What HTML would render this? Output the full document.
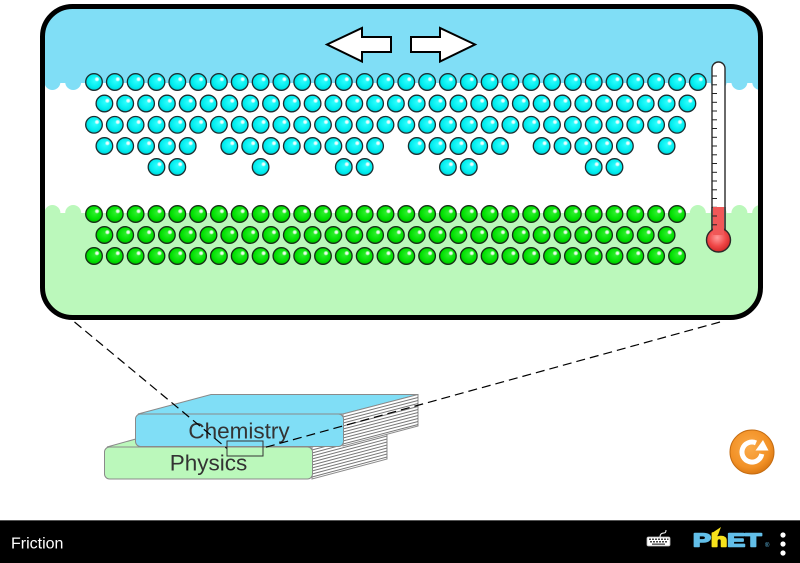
<!DOCTYPE html>
<html><head><meta charset="utf-8"><style>
html,body{margin:0;padding:0;background:#fff;width:800px;height:563px;overflow:hidden}
svg{display:block}
</style></head><body>
<svg width="800" height="563" viewBox="0 0 800 563" xmlns="http://www.w3.org/2000/svg">
<defs>
<clipPath id="box"><rect x="42.5" y="6.5" width="718" height="311" rx="30"/></clipPath>
<radialGradient id="hl" cx="0.5" cy="0.5" r="0.5"><stop offset="0" stop-color="#fff" stop-opacity="1"/><stop offset="0.5" stop-color="#fff" stop-opacity="0.8"/><stop offset="1" stop-color="#fff" stop-opacity="0"/></radialGradient>
<radialGradient id="cy" cx="0.55" cy="0.42" r="0.6"><stop offset="0" stop-color="#30ffff"/><stop offset="0.7" stop-color="#00ecee"/><stop offset="1" stop-color="#00c4cc"/></radialGradient>
<radialGradient id="gr" cx="0.55" cy="0.42" r="0.6"><stop offset="0" stop-color="#30f030"/><stop offset="0.7" stop-color="#00e000"/><stop offset="1" stop-color="#00b400"/></radialGradient>
<radialGradient id="rb" cx="0.45" cy="0.4" r="0.6"><stop offset="0" stop-color="#ff9a9a"/><stop offset="0.6" stop-color="#f04848"/><stop offset="1" stop-color="#d02828"/></radialGradient>
<radialGradient id="og" cx="0.45" cy="0.4" r="0.6"><stop offset="0" stop-color="#fbab4a"/><stop offset="0.75" stop-color="#f29126"/><stop offset="1" stop-color="#dc7a14"/></radialGradient>
<g id="ca"><circle r="8.3" fill="url(#cy)" stroke="#1c2e30" stroke-width="1.3"/><circle cx="3" cy="-2.8" r="2.6" fill="url(#hl)"/></g>
<g id="ga"><circle r="8.3" fill="url(#gr)" stroke="#163016" stroke-width="1.3"/><circle cx="3" cy="-2.8" r="2.6" fill="url(#hl)"/></g>
</defs>

<!-- magnifier contents -->
<rect x="42" y="6" width="719" height="312" rx="30" fill="#fff"/>
<g clip-path="url(#box)">
  <rect x="40" y="0" width="725" height="83" fill="#80def6"/>
  <circle cx="52.4" cy="82" r="8" fill="#80def6"/>
  <circle cx="73.2" cy="82" r="8" fill="#80def6"/>
  <circle cx="718.6" cy="82" r="8" fill="#80def6"/>
  <circle cx="739.4" cy="82" r="8" fill="#80def6"/>
  <circle cx="760.2" cy="82" r="8" fill="#80def6"/>
  <rect x="40" y="213" width="725" height="110" fill="#bbf8bb"/>
  <circle cx="52.4" cy="213" r="8" fill="#bbf8bb"/>
  <circle cx="73.2" cy="213" r="8" fill="#bbf8bb"/>
  <circle cx="697.8" cy="213" r="8" fill="#bbf8bb"/>
  <circle cx="718.6" cy="213" r="8" fill="#bbf8bb"/>
  <circle cx="739.4" cy="213" r="8" fill="#bbf8bb"/>
  <circle cx="760.2" cy="213" r="8" fill="#bbf8bb"/>
</g>

<!-- arrows -->
<polygon points="327,44.5 362,28 362,37 391,37 391,52 362,52 362,61.5" fill="#fff" stroke="#000" stroke-width="2" stroke-linejoin="miter"/>
<polygon points="475,44.5 440,28 440,37 411,37 411,52 440,52 440,61.5" fill="#fff" stroke="#000" stroke-width="2" stroke-linejoin="miter"/>

<!-- cyan atoms -->
<g transform="translate(0,82)">
<use href="#ca" x="94"/><use href="#ca" x="114.8"/><use href="#ca" x="135.6"/><use href="#ca" x="156.5"/><use href="#ca" x="177.3"/><use href="#ca" x="198.1"/><use href="#ca" x="218.9"/><use href="#ca" x="239.7"/><use href="#ca" x="260.6"/><use href="#ca" x="281.4"/><use href="#ca" x="302.2"/><use href="#ca" x="323"/><use href="#ca" x="343.8"/><use href="#ca" x="364.7"/><use href="#ca" x="385.5"/><use href="#ca" x="406.3"/><use href="#ca" x="427.1"/><use href="#ca" x="447.9"/><use href="#ca" x="468.8"/><use href="#ca" x="489.6"/><use href="#ca" x="510.4"/><use href="#ca" x="531.2"/><use href="#ca" x="552"/><use href="#ca" x="572.9"/><use href="#ca" x="593.7"/><use href="#ca" x="614.5"/><use href="#ca" x="635.3"/><use href="#ca" x="656.1"/><use href="#ca" x="677"/><use href="#ca" x="697.8"/>
</g>
<g transform="translate(0,103.5)">
<use href="#ca" x="104.4"/><use href="#ca" x="125.2"/><use href="#ca" x="146.1"/><use href="#ca" x="166.9"/><use href="#ca" x="187.7"/><use href="#ca" x="208.5"/><use href="#ca" x="229.3"/><use href="#ca" x="250.2"/><use href="#ca" x="271"/><use href="#ca" x="291.8"/><use href="#ca" x="312.6"/><use href="#ca" x="333.4"/><use href="#ca" x="354.3"/><use href="#ca" x="375.1"/><use href="#ca" x="395.9"/><use href="#ca" x="416.7"/><use href="#ca" x="437.5"/><use href="#ca" x="458.4"/><use href="#ca" x="479.2"/><use href="#ca" x="500"/><use href="#ca" x="520.8"/><use href="#ca" x="541.6"/><use href="#ca" x="562.5"/><use href="#ca" x="583.3"/><use href="#ca" x="604.1"/><use href="#ca" x="624.9"/><use href="#ca" x="645.7"/><use href="#ca" x="666.6"/><use href="#ca" x="687.4"/>
</g>
<g transform="translate(0,124.8)">
<use href="#ca" x="94"/><use href="#ca" x="114.8"/><use href="#ca" x="135.6"/><use href="#ca" x="156.5"/><use href="#ca" x="177.3"/><use href="#ca" x="198.1"/><use href="#ca" x="218.9"/><use href="#ca" x="239.7"/><use href="#ca" x="260.6"/><use href="#ca" x="281.4"/><use href="#ca" x="302.2"/><use href="#ca" x="323"/><use href="#ca" x="343.8"/><use href="#ca" x="364.7"/><use href="#ca" x="385.5"/><use href="#ca" x="406.3"/><use href="#ca" x="427.1"/><use href="#ca" x="447.9"/><use href="#ca" x="468.8"/><use href="#ca" x="489.6"/><use href="#ca" x="510.4"/><use href="#ca" x="531.2"/><use href="#ca" x="552"/><use href="#ca" x="572.9"/><use href="#ca" x="593.7"/><use href="#ca" x="614.5"/><use href="#ca" x="635.3"/><use href="#ca" x="656.1"/><use href="#ca" x="677"/>
</g>
<g transform="translate(0,146)">
<use href="#ca" x="104.4"/><use href="#ca" x="125.2"/><use href="#ca" x="146.1"/><use href="#ca" x="166.9"/><use href="#ca" x="187.7"/>
<use href="#ca" x="229.3"/><use href="#ca" x="250.2"/><use href="#ca" x="271"/><use href="#ca" x="291.8"/><use href="#ca" x="312.6"/><use href="#ca" x="333.4"/><use href="#ca" x="354.3"/><use href="#ca" x="375.1"/>
<use href="#ca" x="416.7"/><use href="#ca" x="437.5"/><use href="#ca" x="458.4"/><use href="#ca" x="479.2"/><use href="#ca" x="500"/>
<use href="#ca" x="541.6"/><use href="#ca" x="562.5"/><use href="#ca" x="583.3"/><use href="#ca" x="604.1"/><use href="#ca" x="624.9"/>
<use href="#ca" x="666.6"/>
</g>
<g transform="translate(0,167)">
<use href="#ca" x="156.5"/><use href="#ca" x="177.3"/><use href="#ca" x="260.6"/><use href="#ca" x="343.8"/><use href="#ca" x="364.7"/><use href="#ca" x="447.9"/><use href="#ca" x="468.8"/><use href="#ca" x="593.7"/><use href="#ca" x="614.5"/>
</g>

<!-- green atoms -->
<g transform="translate(0,214)">
<use href="#ga" x="94"/><use href="#ga" x="114.8"/><use href="#ga" x="135.6"/><use href="#ga" x="156.5"/><use href="#ga" x="177.3"/><use href="#ga" x="198.1"/><use href="#ga" x="218.9"/><use href="#ga" x="239.7"/><use href="#ga" x="260.6"/><use href="#ga" x="281.4"/><use href="#ga" x="302.2"/><use href="#ga" x="323"/><use href="#ga" x="343.8"/><use href="#ga" x="364.7"/><use href="#ga" x="385.5"/><use href="#ga" x="406.3"/><use href="#ga" x="427.1"/><use href="#ga" x="447.9"/><use href="#ga" x="468.8"/><use href="#ga" x="489.6"/><use href="#ga" x="510.4"/><use href="#ga" x="531.2"/><use href="#ga" x="552"/><use href="#ga" x="572.9"/><use href="#ga" x="593.7"/><use href="#ga" x="614.5"/><use href="#ga" x="635.3"/><use href="#ga" x="656.1"/><use href="#ga" x="677"/>
</g>
<g transform="translate(0,235)">
<use href="#ga" x="104.4"/><use href="#ga" x="125.2"/><use href="#ga" x="146.1"/><use href="#ga" x="166.9"/><use href="#ga" x="187.7"/><use href="#ga" x="208.5"/><use href="#ga" x="229.3"/><use href="#ga" x="250.2"/><use href="#ga" x="271"/><use href="#ga" x="291.8"/><use href="#ga" x="312.6"/><use href="#ga" x="333.4"/><use href="#ga" x="354.3"/><use href="#ga" x="375.1"/><use href="#ga" x="395.9"/><use href="#ga" x="416.7"/><use href="#ga" x="437.5"/><use href="#ga" x="458.4"/><use href="#ga" x="479.2"/><use href="#ga" x="500"/><use href="#ga" x="520.8"/><use href="#ga" x="541.6"/><use href="#ga" x="562.5"/><use href="#ga" x="583.3"/><use href="#ga" x="604.1"/><use href="#ga" x="624.9"/><use href="#ga" x="645.7"/><use href="#ga" x="666.6"/>
</g>
<g transform="translate(0,256)">
<use href="#ga" x="94"/><use href="#ga" x="114.8"/><use href="#ga" x="135.6"/><use href="#ga" x="156.5"/><use href="#ga" x="177.3"/><use href="#ga" x="198.1"/><use href="#ga" x="218.9"/><use href="#ga" x="239.7"/><use href="#ga" x="260.6"/><use href="#ga" x="281.4"/><use href="#ga" x="302.2"/><use href="#ga" x="323"/><use href="#ga" x="343.8"/><use href="#ga" x="364.7"/><use href="#ga" x="385.5"/><use href="#ga" x="406.3"/><use href="#ga" x="427.1"/><use href="#ga" x="447.9"/><use href="#ga" x="468.8"/><use href="#ga" x="489.6"/><use href="#ga" x="510.4"/><use href="#ga" x="531.2"/><use href="#ga" x="552"/><use href="#ga" x="572.9"/><use href="#ga" x="593.7"/><use href="#ga" x="614.5"/><use href="#ga" x="635.3"/><use href="#ga" x="656.1"/><use href="#ga" x="677"/>
</g>

<!-- thermometer -->
<rect x="712" y="62" width="13" height="176" rx="6.5" fill="#fff" stroke="#2a2a2a" stroke-width="1.4"/>
<g stroke="#222" stroke-width="1">
<line x1="712" y1="76" x2="717" y2="76"/><line x1="712" y1="84.8" x2="717" y2="84.8"/><line x1="712" y1="93.5" x2="717" y2="93.5"/><line x1="712" y1="102.3" x2="717" y2="102.3"/><line x1="712" y1="111" x2="717" y2="111"/><line x1="712" y1="119.8" x2="717" y2="119.8"/><line x1="712" y1="128.5" x2="717" y2="128.5"/><line x1="712" y1="137.3" x2="717" y2="137.3"/><line x1="712" y1="146" x2="717" y2="146"/><line x1="712" y1="154.8" x2="717" y2="154.8"/><line x1="712" y1="163.5" x2="717" y2="163.5"/><line x1="712" y1="172.3" x2="717" y2="172.3"/><line x1="712" y1="181" x2="717" y2="181"/><line x1="712" y1="189.8" x2="717" y2="189.8"/><line x1="712" y1="198.5" x2="717" y2="198.5"/><line x1="712" y1="207.3" x2="717" y2="207.3"/><line x1="712" y1="216" x2="717" y2="216"/><line x1="712" y1="224.8" x2="717" y2="224.8"/>
</g>
<circle cx="718.5" cy="240" r="12" fill="url(#rb)" stroke="#2a2a2a" stroke-width="1.4"/>
<rect x="713" y="207" width="11" height="28" fill="#f05858"/>
<line x1="712" y1="216" x2="717" y2="216" stroke="#222" stroke-width="1"/>
<line x1="712" y1="224.8" x2="717" y2="224.8" stroke="#222" stroke-width="1"/>
<line x1="712" y1="207" x2="712" y2="230" stroke="#2a2a2a" stroke-width="1.4"/>
<line x1="725" y1="207" x2="725" y2="230" stroke="#2a2a2a" stroke-width="1.4"/>

<!-- box border -->
<rect x="42.5" y="6.5" width="718" height="311" rx="30" fill="none" stroke="#000" stroke-width="5"/>

<!-- books: physics -->
<polygon points="107,447 179,427 387,427 312,447" fill="#bbf8bb" stroke="#8a8a8a" stroke-width="1"/>
<polygon points="312,447 387,427 387,459 312,479" fill="#fff" stroke="#8a8a8a" stroke-width="1"/>
<g stroke="#777" stroke-width="1">
<line x1="312" y1="450" x2="387" y2="430"/><line x1="312" y1="453" x2="387" y2="433"/><line x1="312" y1="456" x2="387" y2="436"/><line x1="312" y1="459" x2="387" y2="439"/><line x1="312" y1="462" x2="387" y2="442"/><line x1="312" y1="465" x2="387" y2="445"/><line x1="312" y1="468" x2="387" y2="448"/><line x1="312" y1="471" x2="387" y2="451"/><line x1="312" y1="474" x2="387" y2="454"/><line x1="312" y1="477" x2="387" y2="457"/>
</g>
<rect x="104.5" y="447" width="208" height="32" rx="5" fill="#bbf8bb" stroke="#8a8a8a" stroke-width="1"/>
<!-- chemistry -->
<polygon points="138,414 211,394.5 418,394.5 343,414" fill="#80def6" stroke="#8a8a8a" stroke-width="1"/>
<polygon points="343,414 418,394.5 418,426 343,446" fill="#fff" stroke="#8a8a8a" stroke-width="1"/>
<g stroke="#777" stroke-width="1">
<line x1="343" y1="417" x2="418" y2="397.5"/><line x1="343" y1="420" x2="418" y2="400.5"/><line x1="343" y1="423" x2="418" y2="403.5"/><line x1="343" y1="426" x2="418" y2="406.5"/><line x1="343" y1="429" x2="418" y2="409.5"/><line x1="343" y1="432" x2="418" y2="412.5"/><line x1="343" y1="435" x2="418" y2="415.5"/><line x1="343" y1="438" x2="418" y2="418.5"/><line x1="343" y1="441" x2="418" y2="421.5"/><line x1="343" y1="444" x2="418" y2="424.5"/>
</g>
<rect x="135.5" y="414" width="208" height="32.5" rx="5" fill="#80def6" stroke="#8a8a8a" stroke-width="1"/>
<text x="239" y="438.5" text-anchor="middle" font-family="Liberation Sans, sans-serif" font-size="22.5" fill="#333">Chemistry</text>
<text x="208.5" y="470.5" text-anchor="middle" font-family="Liberation Sans, sans-serif" font-size="22.5" fill="#333">Physics</text>

<!-- dashed lines and zoom rect -->
<line x1="74.5" y1="322" x2="227" y2="448.5" stroke="#000" stroke-width="1.2" stroke-dasharray="9 5"/>
<line x1="720" y1="322" x2="263" y2="448" stroke="#000" stroke-width="1.2" stroke-dasharray="9 5"/>
<rect x="227" y="441" width="36" height="15" fill="none" stroke="#333" stroke-width="1"/>

<!-- reset button -->
<circle cx="752" cy="452" r="22" fill="url(#og)" stroke="#c46c12" stroke-width="1"/>
<path d="M 756 442.9 A 10 10 0 1 0 761.8 454" fill="none" stroke="#fff" stroke-width="5"/>
<polygon points="755.5,450.5 768.5,450.5 763,440" fill="#fff"/>

<!-- bottom bar -->
<rect x="0" y="520" width="800" height="43" fill="#000"/>
<rect x="0" y="520" width="800" height="1" fill="#555"/>
<text x="11" y="548.5" font-family="Liberation Sans, sans-serif" font-size="16" fill="#fff">Friction</text>
<!-- keyboard -->
<rect x="647" y="537" width="23" height="9" rx="1.5" fill="#fff" stroke="#bbb" stroke-width="0.8"/>
<g fill="#444">
<rect x="649" y="538.5" width="2" height="1.5"/><rect x="652" y="538.5" width="2" height="1.5"/><rect x="655" y="538.5" width="2" height="1.5"/><rect x="658" y="538.5" width="2" height="1.5"/><rect x="661" y="538.5" width="2" height="1.5"/><rect x="664" y="538.5" width="2" height="1.5"/><rect x="667" y="538.5" width="1.5" height="1.5"/>
<rect x="650" y="541" width="2" height="1.5"/><rect x="653" y="541" width="2" height="1.5"/><rect x="656" y="541" width="2" height="1.5"/><rect x="659" y="541" width="2" height="1.5"/><rect x="662" y="541" width="2" height="1.5"/><rect x="665" y="541" width="2" height="1.5"/>
<rect x="652" y="543.5" width="13" height="1.3"/>
</g>
<path d="M 660 537 Q 660 533 664 533 Q 666 533 666 530" fill="none" stroke="#fff" stroke-width="1"/>
<!-- PhET logo -->
<text transform="translate(693,546.5) scale(1.45,1)" x="0" y="0" font-family="Liberation Sans, sans-serif" font-weight="bold" font-size="18.5" fill="#62bfe9" stroke="#62bfe9" stroke-width="1.6" stroke-linejoin="round">P<tspan fill="#f5e11c" stroke="#f5e11c">h</tspan>ET</text>
<polygon points="712,533 721,527 718,535" fill="#f5e11c"/>
<text x="765" y="547" font-family="Liberation Sans, sans-serif" font-size="6" fill="#62bfe9">®</text>
<circle cx="783" cy="535" r="2.6" fill="#fff"/>
<circle cx="783" cy="544" r="2.6" fill="#fff"/>
<circle cx="783" cy="553" r="2.6" fill="#fff"/>
</svg>
</body></html>
